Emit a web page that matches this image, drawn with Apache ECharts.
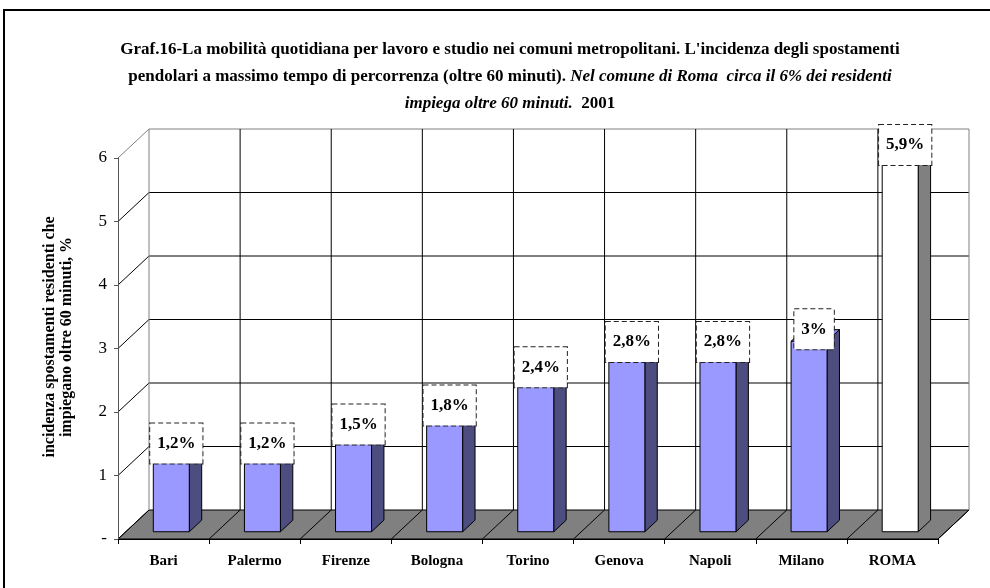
<!DOCTYPE html>
<html>
<head>
<meta charset="utf-8">
<script src="https://cdn.jsdelivr.net/npm/echarts@6/dist/echarts.min.js"></script>
<style>
  html, body { margin: 0; padding: 0; background: #fff; }
  #chart { width: 990px; height: 588px; }
</style>
</head>
<body>
<div id="chart"></div>
<script>
// Comuni metropolitani e quota di residenti che impiegano oltre 60 minuti (%)
const categorie = ['Bari', 'Palermo', 'Firenze', 'Bologna', 'Torino', 'Genova', 'Napoli', 'Milano', 'ROMA'];
const incidenza = [1.2, 1.2, 1.5, 1.8, 2.4, 2.8, 2.8, 3, 5.9];
const tickY = [0, 1, 2, 3, 4, 5, 6];

const SERIF = '"Liberation Serif", "Times New Roman", serif';
// Prospettiva: scostamento della parete di fondo rispetto al piano frontale
const DX = 31, DY = 29;
// Profondità delle colonne (frazioni dello spessore totale)
const T1 = 0.25, T2 = 0.65;
const COMUNE_EVIDENZIATO = 'ROMA';

const chart = echarts.init(document.getElementById('chart'));

function line(x1, y1, x2, y2, color) {
  return { type: 'line', shape: { x1, y1, x2, y2 }, style: { stroke: color, lineWidth: 1 } };
}

// Pavimento e pareti della scena tridimensionale
function renderScena(params, api) {
  const band = api.size([1, 0])[0];
  const base = api.coord([0, 0]);
  const xl = base[0] - band / 2;
  const xr = xl + band * categorie.length;
  const yb = base[1];
  const yt = api.coord([0, tickY[tickY.length - 1]])[1];
  const children = [];
  // pavimento
  children.push({
    type: 'polygon',
    shape: { points: [[xl, yb], [xl + DX, yb - DY], [xr + DX, yb - DY], [xr, yb]] },
    style: { fill: '#808080', stroke: '#000', lineWidth: 1 }
  });
  // linee orizzontali della parete di fondo e diagonali della parete laterale
  tickY.forEach(function (v, k) {
    const y = api.coord([0, v])[1];
    const last = k === tickY.length - 1;
    const col = last ? '#808080' : '#000';
    if (v > 0) children.push(line(xl + DX, y - DY, xr + DX, y - DY, col));
    children.push(line(xl, y, xl + DX, y - DY, col));
  });
  // linee verticali della parete di fondo e diagonali del pavimento
  for (let k = 0; k <= categorie.length; k++) {
    const x = xl + k * band;
    const bordo = k === 0 || k === categorie.length;
    children.push(line(x + DX, yb - DY, x + DX, yt - DY, bordo ? '#808080' : '#000'));
    if (k > 0) children.push(line(x, yb, x + DX, yb - DY, '#000'));
  }
  return { type: 'group', children: children };
}

// Colonne 3D: faccia frontale, fianco e sommità
function renderColonna(params, api) {
  const i = api.value(0);
  const top = api.coord([i, api.value(1)]);
  const bot = api.coord([i, 0]);
  const band = api.size([1, 0])[0];
  const w = band * 0.395;
  const x0 = top[0] - w / 2 + T1 * DX;
  const x1 = x0 + w;
  const yT = top[1] - T1 * DY;
  const yB = bot[1] - T1 * DY;
  const ddx = (T2 - T1) * DX, ddy = (T2 - T1) * DY;
  const evid = categorie[i] === COMUNE_EVIDENZIATO;
  const front = evid ? '#ffffff' : '#9999ff';
  const side = evid ? '#808080' : '#4d4d80';
  const topC = evid ? '#ffffff' : '#8a8aee';
  return {
    type: 'group',
    children: [
      { type: 'polygon', shape: { points: [[x1, yT], [x1 + ddx, yT - ddy], [x1 + ddx, yB - ddy], [x1, yB]] },
        style: { fill: side, stroke: '#000', lineWidth: 1 } },
      { type: 'polygon', shape: { points: [[x0, yT], [x0 + ddx, yT - ddy], [x1 + ddx, yT - ddy], [x1, yT]] },
        style: { fill: topC, stroke: '#000', lineWidth: 1 } },
      { type: 'rect', shape: { x: x0, y: yT, width: w, height: yB - yT },
        style: { fill: front, stroke: '#000', lineWidth: 1 } }
    ]
  };
}

const titolo1 = 'Graf.16-La mobilità quotidiana per lavoro e studio nei comuni metropolitani. L\'incidenza degli spostamenti';
const titolo2a = 'pendolari a massimo tempo di percorrenza (oltre 60 minuti). ';
const titolo2b = 'Nel comune di Roma  circa il 6% dei residenti';
const titolo3a = 'impiega oltre 60 minuti.';
const titolo3b = '  2001';

const option = {
  backgroundColor: '#ffffff',
  animation: false,
  title: {
    text: '{b|' + titolo1 + '}\n{b|' + titolo2a + '}{bi|' + titolo2b + '}\n{bi|' + titolo3a + '}{b|' + titolo3b + '}',
    left: 505,
    top: 31,
    textAlign: 'center',
    textStyle: {
      rich: {
        b: { fontFamily: SERIF, fontWeight: 'bold', fontSize: 17, lineHeight: 27, color: '#000' },
        bi: { fontFamily: SERIF, fontWeight: 'bold', fontStyle: 'italic', fontSize: 17, lineHeight: 27, color: '#000' }
      }
    }
  },
  graphic: [
    { type: 'rect', shape: { x: 4, y: 10, width: 1000, height: 600 },
      style: { fill: 'none', stroke: '#000', lineWidth: 2 }, z: 100 },
    { type: 'text', x: 58, y: 337, rotation: Math.PI / 2,
      style: {
        text: 'incidenza spostamenti residenti che\nimpiegano oltre 60 minuti, %',
        font: 'bold 16px ' + SERIF, fill: '#000', align: 'center', verticalAlign: 'middle', lineHeight: 17
      } }
  ],
  grid: { left: 118, top: 158, width: 820, height: 381 },
  xAxis: {
    type: 'category',
    data: categorie,
    axisLine: { show: true, lineStyle: { color: '#000', width: 1 } },
    axisTick: { show: true, length: 5, lineStyle: { color: '#000' } },
    axisLabel: { fontFamily: SERIF, fontWeight: 'bold', fontSize: 15, color: '#000', margin: 15 },
    splitLine: { show: false },
    z: 5
  },
  yAxis: {
    type: 'value',
    min: 0, max: 6, interval: 1,
    axisLine: { show: true, lineStyle: { color: '#555', width: 1 } },
    axisTick: { show: true, length: 4, lineStyle: { color: '#555' } },
    axisLabel: {
      fontFamily: SERIF, fontSize: 17, color: '#000', margin: 11,
      formatter: function (v) { return v === 0 ? '-' : String(v); }
    },
    splitLine: { show: false },
    z: 5
  },
  series: [
    {
      type: 'custom',
      name: 'scena',
      silent: true,
      z: 1,
      renderItem: renderScena,
      data: [[0, 0]]
    },
    {
      type: 'custom',
      name: 'incidenza',
      z: 2,
      renderItem: renderColonna,
      data: incidenza.map(function (v, i) { return [i, v]; })
    },
    {
      type: 'scatter',
      name: 'etichette',
      z: 6,
      symbolSize: 1,
      itemStyle: { color: 'rgba(0,0,0,0)', opacity: 1 },
      silent: true,
      data: incidenza.map(function (v, i) { return [i, v]; }),
      label: {
        show: true,
        opacity: 1,
        position: 'inside',
        offset: [T1 * DX + 5, -T1 * DY - 12],
        formatter: function (p) { return String(p.value[1]).replace('.', ',') + '%'; },
        fontFamily: SERIF, fontWeight: 'bold', fontSize: 17, color: '#000', lineHeight: 16,
        backgroundColor: '#ffffff',
        borderColor: '#222', borderWidth: 1, borderType: [5, 3],
        padding: [12, 7]
      }
    }
  ]
};

chart.setOption(option);
</script>
</body>
</html>
